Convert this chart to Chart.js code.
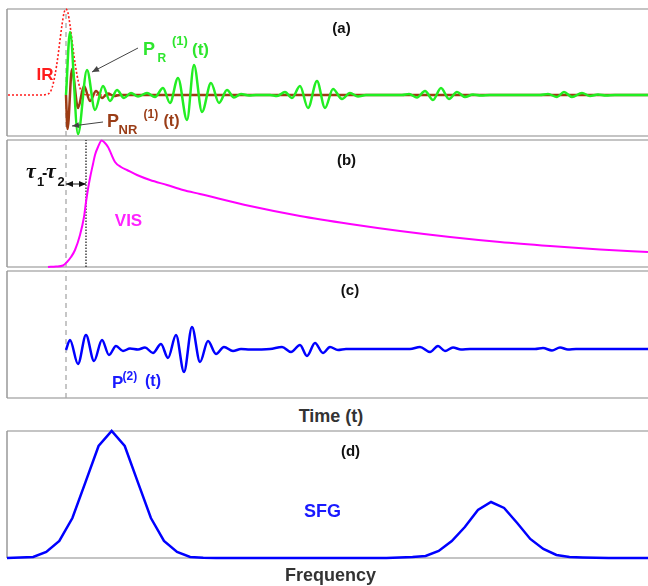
<!DOCTYPE html>
<html>
<head>
<meta charset="utf-8">
<script src="https://cdn.jsdelivr.net/npm/chart.js"></script>
<style>
    body { margin: 0; background: #fff; width: 648px; height: 586px; position: relative; overflow: hidden;
           font-family: "Liberation Sans", Arial, Helvetica, sans-serif; }
    .panel { position: absolute; left: 4px; width: 644px; height: 133px; }
    .lbl { position: absolute; font-weight: bold; line-height: 1; white-space: nowrap; }
    .c { transform: translate(-50%, -50%); }
    .tau { font-family: "Liberation Serif", "Times New Roman", serif; font-style: italic; }
</style>
</head>
<body>

<div class="panel" style="top:6px"><canvas id="chartA"></canvas></div>
<div class="panel" style="top:137px"><canvas id="chartB"></canvas></div>
<div class="panel" style="top:268px"><canvas id="chartC"></canvas></div>
<div class="panel" style="top:428px"><canvas id="chartD"></canvas></div>

<!-- panel (a) labels -->
<div class="lbl c" style="left:341.5px; top:27px; font-size:15px; color:#111">(a)</div>
<div class="lbl c" style="left:45px; top:74px; font-size:17px; color:#ff1c1c">IR</div>
<div class="lbl" style="left:143px; top:39.8px; font-size:18px; color:#2ee62e">P</div>
<div class="lbl" style="left:157.5px; top:51.8px; font-size:12px; color:#2ee62e">R</div>
<div class="lbl" style="left:172px; top:33.5px; font-size:13px; color:#2ee62e">(1)</div>
<div class="lbl" style="left:192px; top:40.6px; font-size:17px; color:#2ee62e">(t)</div>
<div class="lbl" style="left:107px; top:111.8px; font-size:18px; color:#9a3d17">P</div>
<div class="lbl" style="left:118.5px; top:122.5px; font-size:13px; color:#9a3d17">NR</div>
<div class="lbl" style="left:143.5px; top:108.3px; font-size:12px; color:#9a3d17">(1)</div>
<div class="lbl" style="left:163.5px; top:112.5px; font-size:16px; color:#9a3d17">(t)</div>

<!-- panel (b) labels -->
<div class="lbl c" style="left:346.5px; top:158.5px; font-size:15px; color:#111">(b)</div>
<div class="lbl c" style="left:128.5px; top:219.8px; font-size:17px; color:#ff22ff">VIS</div>
<div class="lbl tau" style="left:26px; top:159.6px; font-size:22px; color:#111">τ</div>
<div class="lbl" style="left:37px; top:175px; font-size:13px; color:#111">1</div>
<div class="lbl" style="left:42px; top:164.5px; font-size:16px; color:#111">-</div>
<div class="lbl tau" style="left:46px; top:159.6px; font-size:22px; color:#111">τ</div>
<div class="lbl" style="left:57.5px; top:175px; font-size:13px; color:#111">2</div>

<!-- panel (c) labels -->
<div class="lbl c" style="left:350px; top:289px; font-size:15px; color:#111">(c)</div>
<div class="lbl" style="left:112px; top:373.6px; font-size:17px; color:#1a1aff">P</div>
<div class="lbl" style="left:122.5px; top:369.6px; font-size:12px; color:#1a1aff">(2)</div>
<div class="lbl" style="left:145px; top:373.1px; font-size:16px; color:#1a1aff">(t)</div>
<div class="lbl c" style="left:331px; top:415.5px; font-size:18px; color:#333">Time (t)</div>

<!-- panel (d) labels -->
<div class="lbl c" style="left:350.5px; top:450px; font-size:15px; color:#111">(d)</div>
<div class="lbl c" style="left:322.5px; top:510.8px; font-size:18px; color:#1a1aff">SFG</div>
<div class="lbl c" style="left:330.5px; top:575px; font-size:18px; color:#333">Frequency</div>

<script>
// time axis (arb. units) shared by panels a-c
const T_MIN = 7;
const T_MAX = 648;
const PUMP_T = 66;      // dashed reference (IR pulse centre)
const VIS_T = 86;       // dotted reference (VIS delay)

// (a) IR pulse
const irT = [8, 40, 48, 52, 55, 58, 60, 62, 64, 66, 68, 70, 72, 74, 77, 80, 84, 88, 648];
const irA = [0, 0, 1, 7, 20, 39, 55, 70, 82, 86, 82, 70, 55, 39, 20, 7, 1, 0, 0];

// (a) resonant polarisation P_R(1)(t)
const prT = [66, 70, 78, 87, 95, 103, 110, 117, 124, 131, 138, 147, 155, 163, 170, 178, 187, 194, 202, 211,
             219, 227, 234, 241, 249, 256, 270, 277, 285, 292, 300, 308, 317, 325, 333, 342, 350, 358, 366, 375,
             402, 409, 417, 425, 433, 441, 449, 457, 465, 473, 481, 490, 540, 548, 557, 564, 572, 582, 590, 598,
             606, 615, 648];
const prA = [0, 63, -39, 25, -15, 9, -6, 5, -3, 2, -1.5, 2, -2, 7, -8, 17, -25, 30, -17, 12,
             -8, 5, -2.5, 1, -0.5, 0, 0, -1, 3, -3, 9, -13, 14, -13, 6, -4, 2, -1.5, 0, 0,
             0, 1, -2.5, 4, -5, 7, -4, 3, -2, 0.5, -0.5, 0, 0, 1, -2, 3, -2, 2, -1, 0.5,
             -0.5, 0, 0];

// (a) non-resonant polarisation P_NR(1)(t)
const nrT = [66, 67.5, 72, 78, 84, 90, 96, 102, 108, 114, 120, 648];
const nrA = [0, -34, 26, -13, 9, -6, 4, -3, 1.5, -1, 0, 0];

// (b) VIS pulse
const visT = [48, 56, 63, 67, 71, 75, 80, 84, 86, 88, 90, 93, 95, 98, 101.7, 104, 108, 115, 121, 127,
              137, 150, 167, 183, 200, 250, 300, 350, 400, 450, 500, 550, 600, 648];
const visA = [0, 0.5, 1.5, 5, 10, 17, 32, 50, 65, 78, 89, 103, 112, 120, 126.5, 125, 120, 105, 100, 97,
              92, 87, 82, 77, 73, 61, 51, 43, 36, 30, 25, 21, 17.5, 15];

// (c) second order polarisation P(2)(t)
const p2T = [66, 70, 78, 86, 94, 102, 109, 116, 123, 130, 138, 145, 153, 161, 168, 176, 184, 192, 200, 208,
             216, 224, 233, 241, 250, 270, 282, 291, 300, 307, 315, 323, 330, 338, 346, 410, 420, 430, 438, 445,
             453, 461, 470, 535, 543, 552, 560, 568, 576, 648];
const p2A = [-1, 9, -15, 14, -12, 9, -6, 3, -2, 0.5, -0.5, 1.5, -4, 5, -9, 14, -23, 22, -13, 8,
             -5, 2, -2, 0, -0.5, 0, 2, -3, 4, -7, 6, -4, 2, -1, 0, 0, 2, -3, 3, -2,
             1.5, -0.5, 0, 0, 1, -1.5, 1.5, -0.5, 0, 0];

// (d) SFG spectrum
const freqIdx = [0, 1, 2, 3, 4, 5, 6, 7, 8, 9, 10, 11, 12, 13, 14, 15, 16, 17, 18, 19, 20, 21, 22, 23, 24,
                 25, 26, 27, 28, 29, 30, 31, 32, 33, 34, 35, 36, 37, 38, 39, 40, 41, 42, 43, 44, 45, 46, 47, 48, 49];
const sfgA = [0, 0.004, 0.008, 0.047, 0.134, 0.315, 0.598, 0.882, 1.0, 0.882, 0.598, 0.315, 0.134, 0.047, 0.008,
              0.002, 0, 0, 0, 0, 0, 0, 0, 0, 0, 0, 0, 0, 0, 0, 0.004, 0.008, 0.016, 0.055, 0.134, 0.244, 0.378,
              0.441, 0.394, 0.276, 0.150, 0.071, 0.024, 0.008, 0.004, 0.002, 0, 0, 0, 0];

function toPoints(xs, ys) {
    return xs.map((x, i) => ({ x: x, y: ys[i] }));
}

// frame: light top/bottom rules, darker left rule
const framePlugin = {
    id: 'panelFrame',
    beforeDatasetsDraw(chart) {
        const { ctx, chartArea: a } = chart;
        ctx.save();
        ctx.strokeStyle = '#c4c4c4';
        ctx.lineWidth = 2;
        ctx.beginPath();
        ctx.moveTo(a.left, a.top); ctx.lineTo(a.right, a.top);
        ctx.moveTo(a.left, a.bottom); ctx.lineTo(a.right, a.bottom);
        ctx.stroke();
        ctx.strokeStyle = '#999';
        ctx.lineWidth = 1.5;
        ctx.beginPath();
        ctx.moveTo(a.left, a.top); ctx.lineTo(a.left, a.bottom);
        ctx.stroke();
        ctx.restore();
    }
};

function drawHead(ctx, x1, y1, x2, y2) {
    const ang = Math.atan2(y2 - y1, x2 - x1), len = 7, w = 3;
    ctx.beginPath();
    ctx.moveTo(x2, y2);
    ctx.lineTo(x2 - len * Math.cos(ang) + w * Math.sin(ang), y2 - len * Math.sin(ang) - w * Math.cos(ang));
    ctx.lineTo(x2 - len * Math.cos(ang) - w * Math.sin(ang), y2 - len * Math.sin(ang) + w * Math.cos(ang));
    ctx.closePath();
    ctx.fill();
}

// annotation arrows given in data coordinates
const arrowPlugin = {
    id: 'arrows',
    afterDatasetsDraw(chart, args, opts) {
        const { ctx, scales: { x, y } } = chart;
        (opts.items || []).forEach(a => {
            const x1 = x.getPixelForValue(a.from[0]), y1 = y.getPixelForValue(a.from[1]);
            const x2 = x.getPixelForValue(a.to[0]), y2 = y.getPixelForValue(a.to[1]);
            ctx.save();
            ctx.strokeStyle = a.color;
            ctx.fillStyle = a.color;
            ctx.lineWidth = 1;
            ctx.beginPath();
            ctx.moveTo(x1, y1); ctx.lineTo(x2, y2);
            ctx.stroke();
            drawHead(ctx, x1, y1, x2, y2);
            if (a.both) drawHead(ctx, x2, y2, x1, y1);
            ctx.restore();
        });
    }
};

function baseOptions(xMin, xMax, yMin, yMax, arrows) {
    return {
        responsive: true,
        maintainAspectRatio: false,
        animation: false,
        layout: { padding: { left: 3, top: 3, bottom: 3, right: 0 } },
        plugins: {
            legend: { display: false },
            tooltip: { enabled: false },
            arrows: { items: arrows || [] }
        },
        elements: { point: { radius: 0 } },
        scales: {
            x: { type: 'linear', display: false, min: xMin, max: xMax },
            y: { type: 'linear', display: false, min: yMin, max: yMax }
        }
    };
}

function curve(xs, ys, color, width, extra) {
    return Object.assign({
        data: toPoints(xs, ys),
        borderColor: color,
        borderWidth: width,
        cubicInterpolationMode: 'monotone',
        fill: false,
        clip: false
    }, extra || {});
}

function guide(t, yMin, yMax, color, dash, order) {
    return {
        data: [{ x: t, y: yMin }, { x: t, y: yMax }],
        borderColor: color,
        borderWidth: 1.3,
        borderDash: dash,
        order: order
    };
}

// Panel (a)
new Chart(document.getElementById('chartA'), {
    type: 'line',
    data: {
        datasets: [
            curve(prT, prA, '#22ee22', 2.5, { order: 0 }),
            curve(nrT, nrA, '#9c3c14', 2.5, { order: 1 }),
            curve(irT, irA, '#ff1c1c', 1.6, { order: 2, borderDash: [2, 2] }),
            guide(PUMP_T, -41, 86, '#a8a8a8', [5, 4], 3)
        ]
    },
    options: baseOptions(T_MIN, T_MAX, -41, 86, [
        { from: [138, 47], to: [92, 23], color: '#444' },
        { from: [103, -27], to: [72, -31], color: '#444' }
    ]),
    plugins: [framePlugin, arrowPlugin]
});

// Panel (b)
new Chart(document.getElementById('chartB'), {
    type: 'line',
    data: {
        datasets: [
            curve(visT, visA, '#ff00ff', 2, { order: 0 }),
            guide(PUMP_T, 0, 127, '#a8a8a8', [5, 4], 2),
            guide(VIS_T, 0, 127, '#222', [1.5, 1.5], 1)
        ]
    },
    options: baseOptions(T_MIN, T_MAX, 0, 127, [
        { from: [PUMP_T, 83], to: [VIS_T, 83], color: '#111', both: true }
    ]),
    plugins: [framePlugin, arrowPlugin]
});

// Panel (c)
new Chart(document.getElementById('chartC'), {
    type: 'line',
    data: {
        datasets: [
            curve(p2T, p2A, '#0000ff', 2.5, { order: 0 }),
            guide(PUMP_T, -49, 78, '#a8a8a8', [5, 4], 1)
        ]
    },
    options: baseOptions(T_MIN, T_MAX, -49, 78),
    plugins: [framePlugin, arrowPlugin]
});

// Panel (d)
new Chart(document.getElementById('chartD'), {
    type: 'line',
    data: {
        datasets: [
            curve(freqIdx, sfgA, '#0000ff', 2.5, { cubicInterpolationMode: 'default', tension: 0 })
        ]
    },
    options: baseOptions(0, 49, 0, 1),
    plugins: [framePlugin, arrowPlugin]
});
</script>
</body>
</html>
